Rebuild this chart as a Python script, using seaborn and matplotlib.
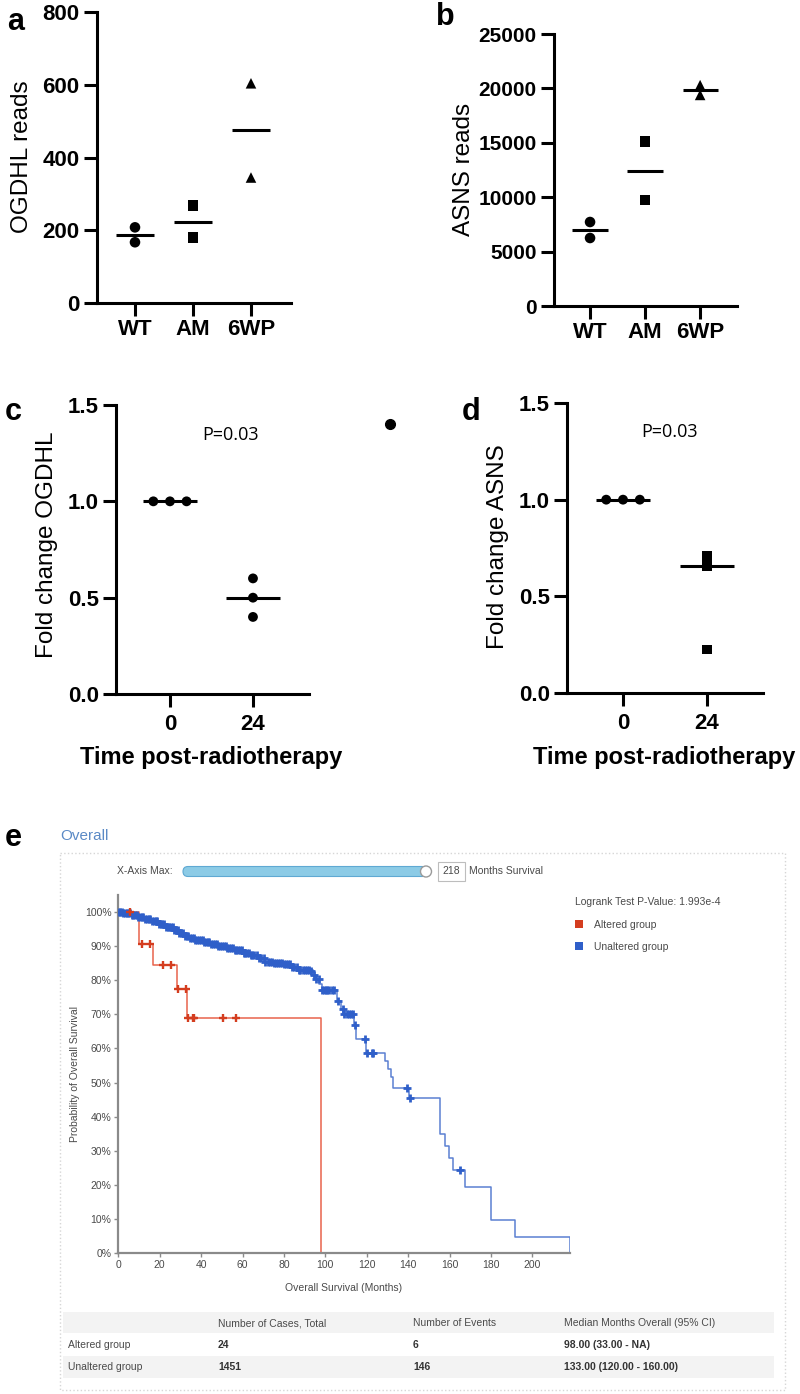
import numpy as np
import pandas as pd
import matplotlib
matplotlib.use('Agg')
import matplotlib.pyplot as plt
from matplotlib.patches import Rectangle, FancyBboxPatch, Circle, Patch
from matplotlib.ticker import FormatStrFormatter
import seaborn as sns

# ---- panels a / b : reads per group
groups_ab = ['WT', 'WT', 'AM', 'AM', '6WP', '6WP']
order_ab = ['WT', 'AM', '6WP']
ogdhl_reads = [208, 167, 268, 180, 604, 345]
asns_reads = [7720, 6250, 15100, 9750, 20300, 19400]

# ---- panels c / d : fold change after radiotherapy
time_cd = ['0', '0', '0', '24', '24', '24']
order_cd = ['0', '24']
fold_ogdhl = [1.0, 1.0, 1.0, 0.60, 0.50, 0.40]
fold_asns = [1.0, 1.0, 1.0, 0.71, 0.655, 0.225]
stray_x = [2.65]
stray_y = [1.40]
p_text = 'P=0.03'

# ---- panel e : Kaplan-Meier, survival in %
alt_t = [0, 10.1, 16.8, 28.2, 33.2, 97.9]
alt_s = [100, 90.7, 84.4, 77.3, 68.9, 0]
alt_cens = [5.7, 11.4, 15.3, 21.7, 25.5, 28.6, 32.7, 33.8, 36.0, 36.7, 50.7, 56.7]

unalt_t = [0, 2.5, 6, 9.5, 13, 16, 19.5, 23, 26.5, 29.5, 32, 34, 37, 41, 45, 48, 52,
           56, 60, 64, 67, 70.5, 75, 80, 83.5, 86.5, 92.5, 94, 95.5, 97, 98.2, 105.5,
           107.5, 108.6, 114, 114.8, 119.5, 128.8, 130.4, 131.5, 132.5, 140.6, 155.4,
           157.8, 159.7, 161.8, 167.5, 179.9, 191.6, 218]
unalt_s = [100, 99.6, 99.1, 98.5, 97.9, 97.3, 96.5, 95.6, 94.7, 93.9, 93.0, 92.4, 91.9,
           91.3, 90.6, 89.9, 89.4, 88.9, 88.1, 87.3, 86.4, 85.4, 85.1, 84.7, 83.8, 83.1,
           82.8, 81.6, 80.5, 78.8, 77.0, 74.0, 71.5, 70.2, 66.8, 62.8, 58.7, 56.4, 53.9,
           51.5, 48.5, 45.4, 35.0, 31.4, 27.8, 24.2, 19.3, 9.7, 4.8, 0]
unalt_cens = [0.3, 1.0, 1.8, 2.5, 3.4, 4.0, 4.9, 5.8, 6.5, 7.3, 8.2, 9.0, 9.7, 10.6, 11.5,
              12.1, 13.0, 13.9, 14.8, 15.5, 16.4, 17.1, 18.0, 18.8, 19.7, 20.5, 21.2, 22.1,
              23.0, 23.8, 24.6, 25.5, 26.3, 27.0, 27.9, 28.8, 29.5, 30.4, 31.2, 32.1, 33.0,
              33.9, 34.6, 35.5, 36.4, 37.2, 38.1, 38.9, 39.8, 40.7, 41.5, 42.4, 43.2, 44.0,
              45.0, 45.8, 46.7, 47.5, 48.4, 49.3, 50.1, 51.0, 51.9, 52.7, 53.6, 54.4, 55.3,
              56.2, 57.0, 57.9, 58.8, 59.6, 60.5, 61.3, 62.2, 63.1, 64.0, 64.8, 65.7, 66.8,
              67.9, 69.0, 70.2, 71.0, 72.1, 73.3, 74.2, 75.0, 76.1, 77.0, 78.2, 79.0, 80.1,
              81.0, 82.2, 83.0, 84.1, 85.0, 86.3, 87.2, 88.0, 89.1, 90.0, 91.2, 92.0, 93.1,
              94.5, 95.5, 96.8, 98.5, 99.3, 100.2, 101.0, 102.0, 103.0, 104.2, 106.3, 108.4,
              109.0, 110.5, 111.5, 112.4, 113.3, 114.3, 119.2, 120.0, 122.4, 123.2, 139.6,
              140.9, 165.0]
x_max = 218
logrank = 'Logrank Test P-Value: 1.993e-4'
km_groups = ['Altered group', 'Unaltered group']
table_header = ['Number of Cases, Total', 'Number of Events', 'Median Months Overall (95% CI)']
cases_total = ['24', '1451']
n_events = ['6', '146']
median_ci = ['98.00 (33.00 - NA)', '133.00 (120.00 - 160.00)']

RED, RED_LINE = '#d43d1f', '#e8634c'
BLUE, BLUE_LINE = '#2f5fc9', '#5b80d2'
GREY_TXT = '#4a4a4a'

sns.set_theme(style='ticks')
plt.rcParams['font.family'] = ['Liberation Sans', 'DejaVu Sans']
plt.rcParams['axes.labelcolor'] = 'black'
plt.rcParams['text.color'] = 'black'

W, H = 800, 1394
fig = plt.figure(figsize=(W / 100, H / 100), dpi=100)

# pixel canvas for figure-level decorations
canvas = fig.add_axes([0, 0, 1, 1])
canvas.set_xlim(0, W)
canvas.set_ylim(H, 0)
canvas.axis('off')


def px_axes(rect):
    x0, y0, x1, y1 = rect
    return fig.add_axes([x0 / W, 1 - y1 / H, (x1 - x0) / W, (y1 - y0) / H])


def label_coords(rect, x, y):
    x0, y0, x1, y1 = rect
    return (x - x0) / (x1 - x0), (y1 - y) / (y1 - y0)


def dot_panel(rect, cats, vals, order, markers, ylim, yticks, xlim, ylab, ylab_xy,
              ytick_size=16, ypad=3, xpad=2, size=58):
    ax = px_axes(rect)
    df = pd.DataFrame({'cat': cats, 'val': vals})
    df['pos'] = df['cat'].map({c: i for i, c in enumerate(order)})
    df['rank'] = df.groupby(['cat', 'val']).cumcount()
    df['n'] = df.groupby(['cat', 'val'])['val'].transform('size')
    df['x'] = df['pos'] + (df['rank'] - (df['n'] - 1) / 2) * 0.2
    sns.scatterplot(data=df, x='x', y='val', style='cat', markers=markers, color='black',
                    s=size, linewidth=0, legend=False, ax=ax, zorder=3)
    med = df.groupby('cat')['val'].median()
    for i, c in enumerate(order):
        ax.hlines(med[c], i - 0.32, i + 0.32, color='black', lw=2.2, zorder=3)
    ax.set_xlim(*xlim)
    ax.set_ylim(*ylim)
    ax.set_xticks(range(len(order)))
    ax.set_xticklabels(order)
    ax.set_yticks(yticks)
    ax.set_xlabel('')
    ax.set_ylabel(ylab, fontsize=17.5, color='black')
    ax.yaxis.set_label_coords(*label_coords(rect, *ylab_xy))
    sns.despine(ax=ax)
    for s in ['left', 'bottom']:
        ax.spines[s].set_linewidth(2.2)
        ax.spines[s].set_color('black')
    ax.tick_params(axis='both', width=2.2, length=9.5, color='black', labelcolor='black')
    ax.tick_params(axis='y', labelsize=ytick_size, pad=ypad)
    ax.tick_params(axis='x', labelsize=16, pad=xpad)
    for lbl in ax.get_xticklabels() + ax.get_yticklabels():
        lbl.set_fontweight('bold')
    ax.patch.set_alpha(0)
    return ax


rect_a = (97, 12, 291, 303)
ax_a = dot_panel(rect_a, groups_ab, ogdhl_reads, order_ab, {'WT': 'o', 'AM': 's', '6WP': '^'},
                 (0, 800), [0, 200, 400, 600, 800], (-0.655, 2.69), 'OGDHL reads', (33, 157))

rect_b = (554, 34, 737, 306)
ax_b = dot_panel(rect_b, groups_ab, asns_reads, order_ab, {'WT': 'o', 'AM': 's', '6WP': '^'},
                 (0, 25000), [0, 5000, 10000, 15000, 20000, 25000], (-0.655, 2.67),
                 'ASNS reads', (475, 169), ytick_size=15)

rect_c = (116, 405, 309, 694)
ax_c = dot_panel(rect_c, time_cd, fold_ogdhl, order_cd, {'0': 'o', '24': 'o'},
                 (0, 1.5), [0, 0.5, 1.0, 1.5], (-0.65, 1.675), 'Fold change OGDHL', (58, 545),
                 xpad=5, size=50)
ax_c.yaxis.set_major_formatter(FormatStrFormatter('%.1f'))
ax_c.plot(stray_x, stray_y, 'o', color='black', ms=7, clip_on=False)
ax_c.text(0.735, 1.345, p_text, ha='center', va='center', fontsize=13,
          family=['Open Sans', 'DejaVu Sans'])
ax_c.set_xlabel('Time post-radiotherapy', fontsize=17, fontweight='bold')
ax_c.xaxis.set_label_coords(*label_coords(rect_c, 211, 746))

rect_d = (567, 403, 763, 693)
ax_d = dot_panel(rect_d, time_cd, fold_asns, order_cd, {'0': 'o', '24': 's'},
                 (0, 1.5), [0, 0.5, 1.0, 1.5], (-0.667, 1.667), 'Fold change ASNS', (509, 547),
                 xpad=5, size=50)
ax_d.yaxis.set_major_formatter(FormatStrFormatter('%.1f'))
ax_d.text(0.56, 1.35, p_text, ha='center', va='center', fontsize=13,
          family=['Open Sans', 'DejaVu Sans'])
ax_d.set_xlabel('Time post-radiotherapy', fontsize=17, fontweight='bold')
ax_d.xaxis.set_label_coords(*label_coords(rect_d, 664, 746))
for ax in (ax_c, ax_d):
    for lbl in ax.get_yticklabels():
        lbl.set_fontweight('bold')

# panel letters
for letter, x, y in [('a', 7, 30), ('b', 436, 25), ('c', 5, 420), ('d', 462, 420), ('e', 5, 846)]:
    canvas.text(x, y, letter, fontsize=22, fontweight='bold', va='baseline', ha='left')

# ---- panel e decorations
canvas.text(60, 836, 'Overall', color='#5b8ac6', fontsize=11, va='center')
canvas.add_patch(Rectangle((60, 853), 725, 537, fill=False, ec='#d6d6d6', lw=1, ls=':'))
canvas.text(173, 871.5, 'X-Axis Max:', fontsize=7.5, color=GREY_TXT, ha='right', va='center')
canvas.add_patch(FancyBboxPatch((183, 866.5), 244, 10, boxstyle='round,pad=0,rounding_size=5',
                                fc='#8ccbe6', ec='#5fa9d3', lw=0.8))
canvas.add_patch(Circle((426, 871.5), 5.5, fc='white', ec='#9a9a9a', lw=1))
canvas.add_patch(Rectangle((438, 862), 27, 19, fc='white', ec='#bdbdbd', lw=0.8))
canvas.text(451.5, 871.5, str(x_max), fontsize=7.5, color=GREY_TXT, ha='center', va='center')
canvas.text(469, 871.5, 'Months Survival', fontsize=7.5, color=GREY_TXT, va='center')

# table
canvas.add_patch(Rectangle((63, 1312), 711, 21, fc='#f3f3f3', ec='none'))
canvas.add_patch(Rectangle((63, 1356), 711, 22, fc='#f3f3f3', ec='none'))
col_x = [218, 413, 564]
for x, txt in zip(col_x, table_header):
    canvas.text(x, 1323, txt, fontsize=7.5, color=GREY_TXT, va='center')
for i, (grp, a, b, c) in enumerate(zip(km_groups, cases_total, n_events, median_ci)):
    y = 1345.5 + i * 22
    canvas.text(68, y, grp, fontsize=7.5, color=GREY_TXT, va='center')
    for x, txt in zip(col_x, [a, b, c]):
        canvas.text(x, y, txt, fontsize=7.5, color='#333333', va='center', fontweight='bold')

# ---- KM plot
rect_e = (118.3, 895, 569.6, 1253)
ax_e = px_axes(rect_e)
ax_e.patch.set_alpha(0)


def km_draw(ax, t, s, cens, line_col, mark_col, ms, mew):
    t = np.asarray(t, float)
    s = np.asarray(s, float)
    sns.lineplot(x=t, y=s, drawstyle='steps-post', color=line_col, lw=1.1, ax=ax,
                 estimator=None, sort=False)
    idx = np.searchsorted(t, cens, side='right') - 1
    ax.plot(cens, s[idx], '+', color=mark_col, ms=ms, mew=mew, zorder=4)


km_draw(ax_e, unalt_t, unalt_s, unalt_cens, BLUE_LINE, BLUE, 6, 2.0)
km_draw(ax_e, alt_t, alt_s, alt_cens, RED_LINE, RED, 5.5, 1.7)
ax_e.set_xlim(0, x_max)
ax_e.set_ylim(0, 105)
ax_e.set_xticks(range(0, 201, 20))
ax_e.set_yticks(range(0, 101, 10))
ax_e.set_yticklabels([f'{v}%' for v in range(0, 101, 10)])
sns.despine(ax=ax_e)
for s in ['left', 'bottom']:
    ax_e.spines[s].set_color('#8a8a8a')
    ax_e.spines[s].set_linewidth(1.6)
ax_e.tick_params(length=3, width=1, color='#8a8a8a', labelsize=7.5, labelcolor=GREY_TXT, pad=2)
ax_e.set_xlabel('Overall Survival (Months)', fontsize=7.5, color=GREY_TXT)
ax_e.xaxis.set_label_coords(*label_coords(rect_e, 344, 1283))
ax_e.set_ylabel('Probability of Overall Survival', fontsize=7.5, color=GREY_TXT)
ax_e.yaxis.set_label_coords(*label_coords(rect_e, 80, 1074))

handles = [Patch(fc=RED, ec='none'), Patch(fc=BLUE, ec='none')]
leg = fig.legend(handles, km_groups, title=logrank, loc='upper left',
                 bbox_to_anchor=(575 / W, 1 - 897 / H), frameon=False, fontsize=7.5,
                 title_fontsize=7.5, handlelength=0.8, handleheight=0.8, handletextpad=1.0,
                 labelspacing=1.2, borderpad=0, borderaxespad=0, alignment='left')
for txt in leg.get_texts():
    txt.set_color(GREY_TXT)
leg.get_title().set_color(GREY_TXT)

fig.savefig('out.png', dpi=100)
